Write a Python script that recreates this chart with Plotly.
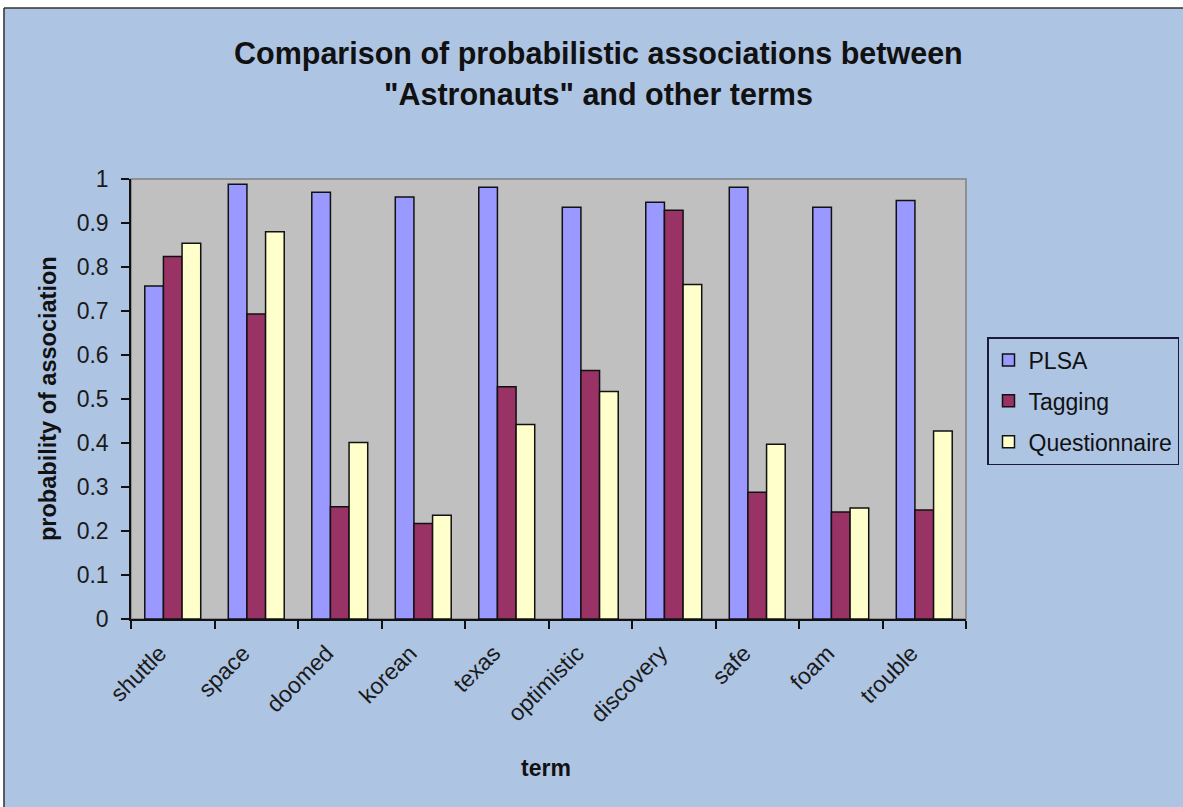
import plotly.graph_objects as go

# Terms compared against "Astronauts"
terms = ["shuttle", "space", "doomed", "korean", "texas",
         "optimistic", "discovery", "safe", "foam", "trouble"]

plsa = [0.757, 0.988, 0.970, 0.959, 0.981, 0.936, 0.947, 0.981, 0.936, 0.951]
tagging = [0.824, 0.693, 0.255, 0.217, 0.528, 0.565, 0.929, 0.288, 0.243, 0.248]
questionnaire = [0.854, 0.880, 0.401, 0.236, 0.442, 0.517, 0.760, 0.397, 0.252, 0.427]

y_tick_vals = [0, 0.1, 0.2, 0.3, 0.4, 0.5, 0.6, 0.7, 0.8, 0.9, 1]
y_tick_text = ["0", "0.1", "0.2", "0.3", "0.4", "0.5", "0.6", "0.7", "0.8", "0.9", "1"]

W, H = 1183, 807
L, R, T, B = 131, 966, 179, 619  # plot area in pixels

def px(x):
    return (x - L) / (R - L)

def py(y):
    return (B - y) / (B - T)

BG = "#AEC4E3"
FONT = "Liberation Sans, Arial, sans-serif"

series = [("PLSA", plsa, "#9999FF"),
          ("Tagging", tagging, "#993366"),
          ("Questionnaire", questionnaire, "#FFFFCC")]

fig = go.Figure()
for name, vals, color in series:
    fig.add_trace(go.Bar(
        x=terms, y=vals, name=name, legendgroup=name,
        marker=dict(color=color, line=dict(color="#111111", width=1.5)),
    ))

fig.update_layout(
    width=W, height=H,
    margin=dict(l=L, r=W - R, t=T, b=H - B, autoexpand=False),
    paper_bgcolor=BG,
    plot_bgcolor="#C0C0C0",
    barmode="group",
    bargap=0.33,
    bargroupgap=0,
    font=dict(family=FONT, size=23, color="#111111"),
    showlegend=True,
    legend=dict(
        x=px(987), y=py(337), xanchor="left", yanchor="top",
        bgcolor=BG, bordercolor="#1a1a3a", borderwidth=1.5,
        font=dict(family=FONT, size=23, color="#111111"),
        traceorder="grouped", tracegroupgap=8,
        itemwidth=30,
    ),
    xaxis=dict(
        type="category", tickangle=-45, tickson="boundaries",
        ticks="outside", ticklen=8, tickcolor="#111111", tickwidth=1.5,
        ticklabelshift=-13, ticklabelstandoff=10,
        showline=True, linecolor="#111111", linewidth=1.5,
        showgrid=False, zeroline=False,
        tickfont=dict(family=FONT, size=23, color="#1a1a1a"),
    ),
    yaxis=dict(
        range=[0, 1], tickvals=y_tick_vals, ticktext=y_tick_text,
        ticks="outside", ticklen=8, tickcolor="#111111", tickwidth=1.5,
        ticklabelstandoff=8,
        showline=True, linecolor="#111111", linewidth=1.5,
        showgrid=False, zeroline=False,
        tickfont=dict(family=FONT, size=23, color="#1a1a1a"),
    ),
)

# Titles
fig.add_annotation(text="<b>Comparison of probabilistic associations between</b>",
                   x=px(598), y=py(54), xref="paper", yref="paper",
                   showarrow=False, xanchor="center", yanchor="middle",
                   font=dict(family=FONT, size=30.5, color="#111111"))
fig.add_annotation(text="<b>\"Astronauts\" and other terms</b>",
                   x=px(598), y=py(94), xref="paper", yref="paper",
                   showarrow=False, xanchor="center", yanchor="middle",
                   font=dict(family=FONT, size=30.5, color="#111111"))
fig.add_annotation(text="<b>probability of association</b>",
                   x=px(48), y=py(399), xref="paper", yref="paper",
                   showarrow=False, textangle=-90,
                   xanchor="center", yanchor="middle",
                   font=dict(family=FONT, size=23.5, color="#111111"))
fig.add_annotation(text="<b>term</b>",
                   x=px(546), y=py(768), xref="paper", yref="paper",
                   showarrow=False, xanchor="center", yanchor="middle",
                   font=dict(family=FONT, size=23, color="#111111"))

# Plot-area frame (top and right edges in gray)
fig.add_shape(type="rect", xref="paper", yref="paper", x0=0, x1=1, y0=0, y1=1,
              line=dict(color="#808080", width=1.5), fillcolor="rgba(0,0,0,0)",
              layer="below")

# White margin at top and left with the chart-area border line
fig.add_shape(type="rect", xref="paper", yref="paper",
              x0=px(-10), x1=px(W + 10), y0=py(8), y1=py(-10),
              line=dict(width=0), fillcolor="white", layer="above")
fig.add_shape(type="rect", xref="paper", yref="paper",
              x0=px(-10), x1=px(3.5), y0=py(H + 10), y1=py(-10),
              line=dict(width=0), fillcolor="white", layer="above")
fig.add_shape(type="line", xref="paper", yref="paper",
              x0=px(4), x1=px(W + 10), y0=py(8), y1=py(8),
              line=dict(color="#333333", width=1.5), layer="above")
fig.add_shape(type="line", xref="paper", yref="paper",
              x0=px(4), x1=px(4), y0=py(8), y1=py(H + 10),
              line=dict(color="#333333", width=1.5), layer="above")

fig.write_html("out.html")
